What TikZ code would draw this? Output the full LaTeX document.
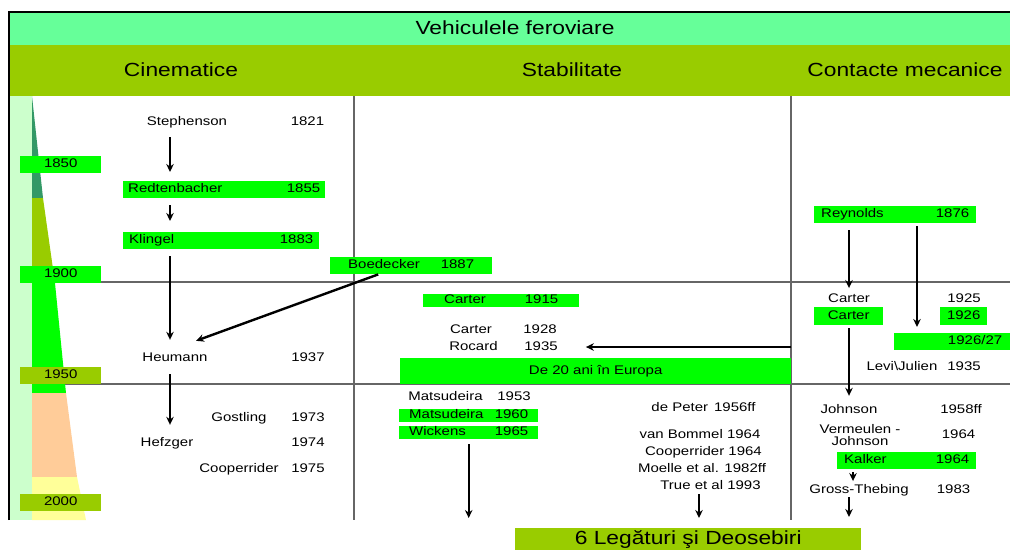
\documentclass[tikz,border=0pt]{standalone}
\usepackage{fontspec}
\setmainfont{Liberation Sans}[FakeStretch=1.2]
\usetikzlibrary{arrows.meta,positioning,calc}
\definecolor{titlegreen}{HTML}{66FF99}
\definecolor{olivebar}{HTML}{99CC00}
\definecolor{lightgreen}{HTML}{00FF00}
\definecolor{palegreen}{HTML}{CCFFCC}
\definecolor{tealgreen}{HTML}{339966}
\definecolor{peach}{HTML}{FFCC99}
\definecolor{paleyellow}{HTML}{FFFF99}
\definecolor{gridgray}{HTML}{666666}

\begin{document}
\begin{tikzpicture}[x=1pt, y=-1pt,
  font=\fontsize{12.5}{13}\selectfont,
  txt/.style={text height=9pt, text depth=2.5pt, inner sep=2pt},
  gbox/.style={fill=lightgreen, anchor=north west, inner ysep=0pt, minimum height=17pt, text height=9pt, text depth=2.5pt},
  yearbox/.style={anchor=north west, inner sep=0pt, minimum width=81pt, minimum height=17pt, text height=9pt, text depth=2.5pt},
  head/.style={font=\fontsize{19}{21}\selectfont},
  grid/.style={gridgray, line width=1.2pt},
  arr/.style={-{Stealth[length=8pt,width=7.5pt]}, line width=2pt}
]
\useasboundingbox (0,0) rectangle (1010,550);
% header bands
\fill[titlegreen] (9,11) rectangle (1010,45);
\fill[olivebar] (9,45) rectangle (1010,96);
\node[head] (title) at (515,28) {Vehiculele feroviare};
\node[head] (kin) at (181,70) {Cinematice};
\node[head] (stab) at (572,70) {Stabilitate};
\node[head] (cont) at (905,70) {Contacte mecanice};
% grid
\draw[grid] (32,282) -- (1010,282);
\draw[grid] (32,384) -- (1010,384);
\draw[grid] (354,96) -- (354,520);
\draw[grid] (791,96) -- (791,520);
% time scale
\fill[palegreen] (10,96) rectangle (32,520);
\fill[tealgreen] (32,96) -- (43,198) -- (32,198) -- cycle;
\fill[olivebar] (32,198) -- (43,198) -- (55,283) -- (32,283) -- cycle;
\fill[lightgreen] (32,283) -- (55,283) -- (66,393) -- (32,393) -- cycle;
\fill[peach] (32,393) -- (66,393) -- (77,477) -- (32,477) -- cycle;
\fill[paleyellow] (32,477) -- (77,477) -- (86,520) -- (32,520) -- cycle;
\draw[line width=2pt] (9,520) -- (9,11.5) -- (1010,11.5);
\node[yearbox, fill=lightgreen] (y1850) at (20,156) {1850};
\node[yearbox, fill=lightgreen] (y1900) at (20,266) {1900};
\node[yearbox, fill=olivebar] (y1950) at (20,367) {1950};
\node[yearbox, fill=olivebar] (y2000) at (20,494) {2000};
% Cinematice
\node[txt] (steph) at (187,122) {Stephenson};
\node[txt] (y1821) at (307.5,122) {1821};
\node[gbox, inner xsep=5pt, text width=192pt] (redt) at (123,181) {Redtenbacher\hfill 1855};
\node[gbox, inner xsep=6pt, text width=184pt] (kling) at (123,232) {Klingel\hfill 1883};
\node[gbox, inner xsep=18pt, text width=126pt] (boed) at (330,257) {Boedecker\hfill 1887};
\node[txt] (heum) at (175,358) {Heumann};
\node[txt] (y1937) at (308,358) {1937};
\node[txt] (gost) at (239,418) {Gostling};
\node[txt] (y1973) at (308,418) {1973};
\node[txt] (hefz) at (167,443) {Hefzger};
\node[txt] (y1974) at (308,443) {1974};
\node[txt] (coop) at (239,469) {Cooperrider};
\node[txt] (y1975) at (308,469) {1975};
% Stabilitate
\node[gbox, minimum height=13pt, inner xsep=21pt, text width=114pt] (cart15) at (423,294) {Carter\hfill 1915};
\node[txt] (cart28) at (471,330) {Carter};
\node[txt] (y1928) at (540,330) {1928};
\node[txt] (roc) at (473.5,347) {Rocard};
\node[txt] (y1935r) at (541,347) {1935};
\node[gbox, minimum width=391pt, minimum height=26pt] (europa) at (400,358) {De 20 ani în Europa};
\node[txt] (mat53) at (445.5,397) {Matsudeira};
\node[txt] (y1953) at (514,397) {1953};
\node[gbox, minimum height=13pt, inner xsep=10pt, text width=119pt] (mat60) at (399,409) {Matsudeira\hfill 1960};
\node[gbox, minimum height=13pt, inner xsep=10pt, text width=119pt] (wick) at (399,426) {Wickens\hfill 1965};
\node[txt] (peter) at (703.5,408) {de Peter\hspace{6pt}1956ff};
\node[txt] (bommel) at (700,435) {van Bommel 1964};
\node[txt] (coop64) at (703.5,452) {Cooperrider 1964};
\node[txt] (moelle) at (702,469) {Moelle et al. 1982ff};
\node[txt] (true) at (710.5,486) {True et al 1993};
% Contacte mecanice
\node[gbox, inner xsep=7pt, text width=148pt] (reyn) at (814,206) {Reynolds\hfill 1876};
\node[txt] (cart25) at (849,299) {Carter};
\node[txt] (y1925) at (964,299) {1925};
\node[gbox, minimum width=69pt, minimum height=18pt] (cartC) at (814,307) {Carter};
\node[gbox, minimum width=47pt, minimum height=18pt] (y1926) at (940,307) {1926};
\node[gbox, inner xsep=8pt, text width=100pt, align=right] (y1926b) at (894,333) {1926/27};
\node[txt] (levi) at (902,367) {Levi\textbackslash Julien};
\node[txt] (y1935c) at (964,367) {1935};
\node[txt] (john) at (849,410) {Johnson};
\node[txt] (y1958) at (961,410) {1958ff};
\node[align=center, font=\fontsize{12.5}{12.5}\selectfont, inner sep=1pt] (verm) at (860,435) {Vermeulen -\\Johnson};
\node[txt] (y1964v) at (958.5,435) {1964};
\node[gbox, inner xsep=7pt, text width=125pt] (kalk) at (837,452) {Kalker\hfill 1964};
\node[txt] (gross) at (859,490) {Gross-Thebing};
\node[txt] (y1983) at (953.5,490) {1983};
\node[head, fill=olivebar, anchor=north west, inner sep=0pt, minimum width=346pt, minimum height=22pt] (leg) at (515,528) {6 Legături şi Deosebiri};
% arrows
\coordinate (kx) at (170,0);
\coordinate (tx) at (699,0);
\coordinate (rx) at (917,0);
\coordinate (gx) at (853,0);
\draw[arr] ($(kx |- steph.south)+(0,7.25)$) -- ($(kx |- redt.north)+(0,-9)$);
\draw[arr] ($(kx |- redt.south)+(0,7)$) -- ($(kx |- kling.north)+(0,-11)$);
\draw[arr] ($(kx |- kling.south)+(0,7)$) -- ($(kx |- heum.north)+(0,-10.25)$);
\draw[arr, line width=2.4pt] ($(boed.south)+(-33,0)$) -- ($(heum.north)+(21,-9.25)$);
\draw[arr] ($(kx |- heum.south)+(0,8.25)$) -- ($(kx |- hefz.north)+(0,-10.25)$);
\draw[arr] (europa.north east |- y1935r.east) -- ($(y1935r.east)+(26,0)$);
\draw[arr] ($(wick.south)+(0,5)$) -- ($(wick.south |- leg.north)+(0,-10)$);
\draw[arr] ($(tx |- true.south)+(0,0.5)$) -- ($(tx |- leg.north)+(0,-10)$);
\draw[arr] ($(cart25.north |- reyn.south)+(0,7)$) -- ($(cart25.north)+(0,-3)$);
\draw[arr] ($(rx |- reyn.south)+(0,3)$) -- ($(rx |- y1926b.north)+(0,-6)$);
\draw[arr] ($(john.north |- cartC.south)+(0,3)$) -- ($(john.north)+(0,-6.25)$);
\draw[arr] ($(gx |- kalk.south)+(0,3)$) -- ($(gx |- gross.north)+(0,-1)$);
\draw[arr] ($(cart25.north |- gross.south)+(0,-0.5)$) -- ($(cart25.north |- leg.north)+(0,-11)$);
\end{tikzpicture}
\end{document}
